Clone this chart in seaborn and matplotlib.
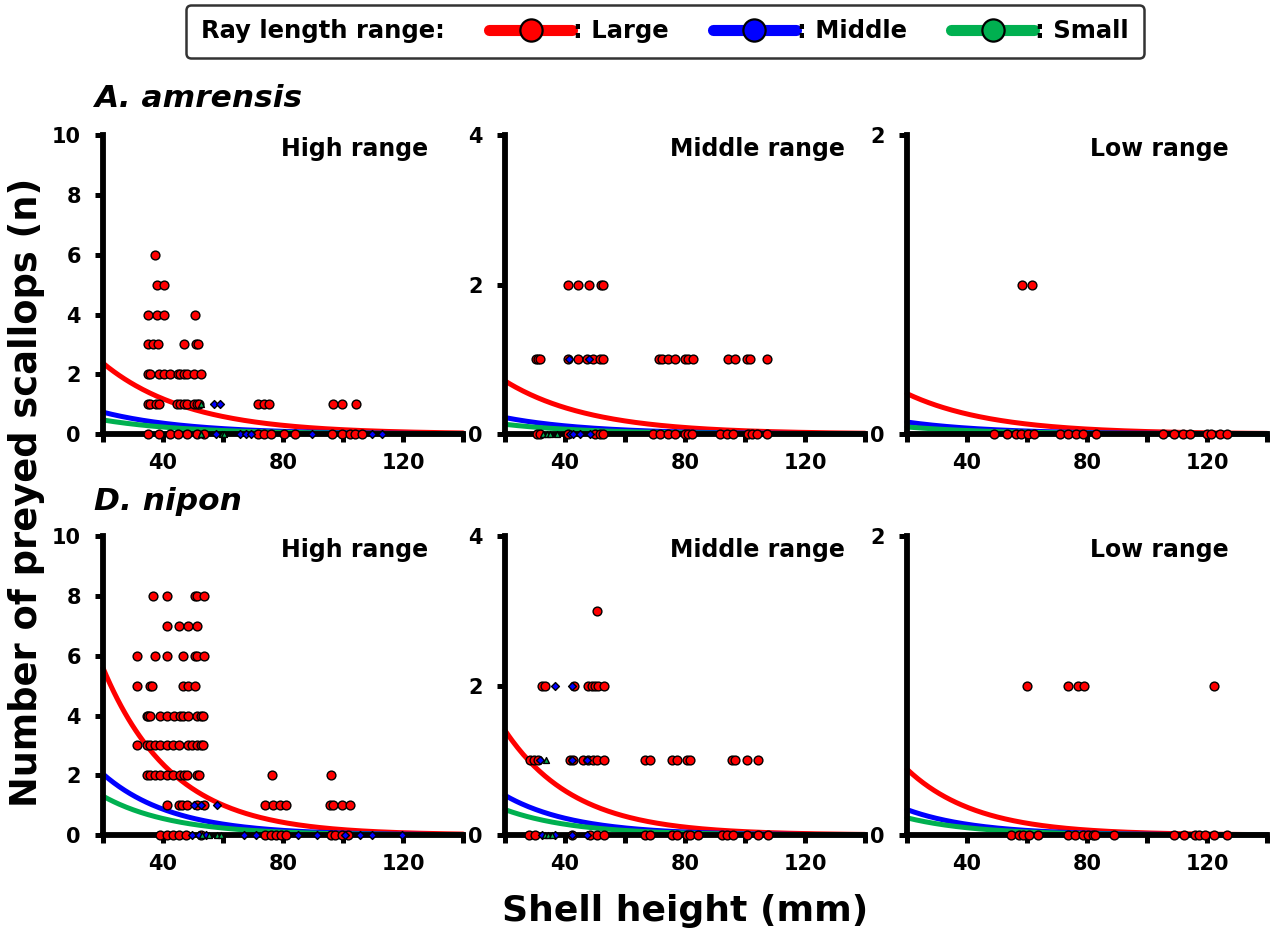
import numpy as np
import pandas as pd
import matplotlib
matplotlib.use("Agg")
import matplotlib.pyplot as plt
from matplotlib.lines import Line2D
import seaborn as sns

# ---------------- data ----------------
GROUPS = ["Large", "Middle", "Small"]
COLORS = {"Large": "#FF0000", "Middle": "#0000FF", "Small": "#00B050"}
MARKERS = {"Large": "o", "Middle": "D", "Small": "^"}

# A. amrensis - High range : {count: [shell heights]}
AA_HIGH_LARGE = {
    6: [37.2],
    5: [38.0, 40.4],
    4: [34.9, 37.9, 40.2, 50.6],
    3: [34.9, 36.8, 38.3, 46.9, 50.9, 51.6],
    2: [34.9, 35.7, 38.5, 40.2, 42.4, 44.9, 45.8, 46.9, 48.0, 50.3, 52.7],
    1: [34.9, 35.7, 37.7, 38.5, 44.7, 45.8, 46.9, 48.0, 50.3, 51.2, 52.0,
        71.6, 73.8, 75.2, 96.8, 99.6, 104.4],
    0: [34.9, 38.5, 42.4, 44.9, 48.0, 51.4, 53.6, 71.6, 73.8, 76.0, 80.3,
        83.9, 96.2, 99.6, 102.4, 104.1, 106.3],
}
AA_HIGH_MIDDLE = {1: [57.0, 59.0], 0: [57.6, 65.7, 67.6, 69.3, 89.5, 109.7, 113.0]}
AA_HIGH_SMALL = {1: [52.5], 0: [52.5, 59.8, 60.4]}

# A. amrensis - Middle range
AA_MID_LARGE = {
    2: [40.9, 44.4, 48.1, 51.9, 52.6],
    1: [30.2, 31.1, 31.7, 40.9, 44.4, 47.2, 49.4, 51.7, 52.6, 71.4, 72.2,
        74.4, 76.7, 80.0, 81.1, 82.6, 94.4, 96.7, 100.6, 101.7, 107.2],
    0: [30.6, 31.7, 41.1, 50.0, 51.7, 52.6, 69.4, 71.7, 74.4, 76.7, 80.0,
        81.1, 82.2, 91.7, 93.9, 96.1, 101.1, 102.2, 103.9, 107.2],
}
AA_MID_MIDDLE = {1: [41.4, 48.1], 0: [41.7, 42.8, 45.0, 48.3]}
AA_MID_SMALL = {0: [32.8, 33.9, 35.0, 37.2]}

# A. amrensis - Low range
AA_LOW_LARGE = {
    1: [58.2, 61.7],
    0: [49.1, 53.3, 56.3, 58.0, 60.2, 62.4, 71.1, 73.6, 76.3, 78.6, 83.0,
        105.2, 108.9, 111.9, 114.4, 120.0, 121.3, 124.4, 126.7],
}
AA_LOW_MIDDLE = {}
AA_LOW_SMALL = {}

# D. nipon - High range
DN_HIGH_LARGE = {
    8: [36.8, 41.3, 50.6, 51.4, 53.6],
    7: [41.3, 45.2, 48.4, 51.4],
    6: [31.2, 37.4, 41.3, 46.7, 50.6, 51.4, 53.6],
    5: [31.2, 35.7, 36.3, 46.7, 48.4, 50.6],
    4: [34.6, 35.1, 35.7, 39.0, 41.3, 43.5, 45.8, 46.7, 48.4, 51.2, 52.8, 53.4],
    3: [31.2, 34.6, 35.5, 37.4, 39.0, 41.3, 43.3, 45.2, 48.4, 49.5, 51.4,
        52.5, 53.4],
    2: [34.6, 35.7, 37.4, 39.0, 41.3, 43.3, 45.8, 46.9, 48.0, 51.2, 52.0,
        76.4, 96.0],
    1: [41.3, 45.2, 46.3, 48.0, 51.2, 53.6, 74.1, 76.6, 78.9, 81.1, 95.7,
        96.5, 99.6, 102.4],
    0: [39.0, 41.3, 43.3, 45.2, 47.5, 52.5, 74.1, 76.0, 77.7, 79.4, 81.1,
        96.0, 97.3, 99.6, 101.8],
}
DN_HIGH_MIDDLE = {
    1: [50.3, 52.8, 57.9],
    0: [49.7, 52.0, 54.2, 67.1, 71.0, 85.0, 91.2, 100.7, 105.8, 109.5, 119.8],
}
DN_HIGH_SMALL = {0: [53.1, 55.3, 58.1, 59.2]}

# D. nipon - Middle range
DN_MID_LARGE = {
    3: [50.6],
    2: [32.2, 33.3, 43.1, 47.8, 48.9, 50.0, 51.1, 53.0],
    1: [28.3, 29.8, 31.1, 41.7, 42.8, 45.9, 47.8, 49.4, 50.6, 53.0, 66.7,
        68.3, 75.6, 77.2, 80.6, 81.7, 95.6, 96.7, 100.6, 104.4],
    0: [28.1, 30.0, 42.2, 48.3, 50.6, 53.0, 66.7, 68.3, 75.6, 77.2, 80.6,
        81.7, 84.4, 92.2, 93.9, 96.1, 100.6, 104.4, 107.8],
}
DN_MID_MIDDLE = {2: [36.7, 42.2], 1: [31.7, 42.2, 47.2], 0: [32.2, 36.7, 42.2, 47.2]}
DN_MID_SMALL = {1: [33.7], 0: [33.3, 34.4, 35.6]}

# D. nipon - Low range
DN_LOW_LARGE = {
    1: [59.9, 73.6, 77.1, 79.1, 122.4],
    0: [54.7, 57.4, 58.6, 60.6, 63.6, 73.6, 76.0, 78.6, 80.2, 81.9, 82.7,
        88.9, 108.9, 112.2, 116.0, 117.4, 119.3, 122.4, 126.7],
}
DN_LOW_MIDDLE = {}
DN_LOW_SMALL = {}

# fitted curves: predicted count at 20 mm (Large, Middle, Small) and decay rate
AA_HIGH_FIT = [2.37, 0.73, 0.47]
AA_MID_FIT = [0.71, 0.22, 0.13]
AA_LOW_FIT = [0.27, 0.08, 0.047]
DN_HIGH_FIT = [5.59, 2.04, 1.30]
DN_MID_FIT = [1.40, 0.53, 0.34]
DN_LOW_FIT = [0.44, 0.17, 0.115]
AA_DECAY = 0.035
DN_DECAY = 0.043

PANEL_TITLES = ["High range", "Middle range", "Low range"]
YMAX = [10, 4, 2]
YTICKS = [[0, 2, 4, 6, 8, 10], [0, 2, 4], [0, 2]]
XTICKS = [20, 40, 60, 80, 100, 120, 140]
XTICKLABELS = ["", "40", "", "80", "", "120", ""]

# ---------------- styling ----------------
sns.set_style("ticks")
plt.rcParams["font.family"] = ["DejaVu Sans"]
plt.rcParams["font.weight"] = "bold"
plt.rcParams["text.color"] = "black"
plt.rcParams["axes.labelcolor"] = "black"
plt.rcParams["xtick.color"] = "black"
plt.rcParams["ytick.color"] = "black"

fig = plt.figure(figsize=(12.75, 9.38), dpi=100)

lefts = [0.0808, 0.3961, 0.7114]
bottoms = [0.5373, 0.1098]
W, H = 0.2824, 0.3185

panels = [
    [(AA_HIGH_LARGE, AA_HIGH_MIDDLE, AA_HIGH_SMALL, AA_HIGH_FIT, AA_DECAY),
     (AA_MID_LARGE, AA_MID_MIDDLE, AA_MID_SMALL, AA_MID_FIT, AA_DECAY),
     (AA_LOW_LARGE, AA_LOW_MIDDLE, AA_LOW_SMALL, AA_LOW_FIT, AA_DECAY)],
    [(DN_HIGH_LARGE, DN_HIGH_MIDDLE, DN_HIGH_SMALL, DN_HIGH_FIT, DN_DECAY),
     (DN_MID_LARGE, DN_MID_MIDDLE, DN_MID_SMALL, DN_MID_FIT, DN_DECAY),
     (DN_LOW_LARGE, DN_LOW_MIDDLE, DN_LOW_SMALL, DN_LOW_FIT, DN_DECAY)],
]


def rows_to_df(rows, group):
    xs, ys = [], []
    for count, heights in rows.items():
        xs += list(heights)
        ys += [count] * len(heights)
    return pd.DataFrame({"x": xs, "y": ys, "group": group})


grid = np.linspace(20, 140, 200)
marker_sizes = {"Large": 40, "Middle": 16, "Small": 18}

for r, row in enumerate(panels):
    for c, (lg, md, sm, fit, decay) in enumerate(row):
        ax = fig.add_axes([lefts[c], bottoms[r], W, H])
        # fitted curves
        for g, start in zip(GROUPS, fit):
            curve = pd.DataFrame({"x": grid, "y": start * np.exp(-decay * (grid - 20))})
            sns.lineplot(data=curve, x="x", y="y", color=COLORS[g], lw=3.6,
                         ax=ax, zorder=2)
        # observations
        for g, rows in zip(GROUPS, (lg, md, sm)):
            df = rows_to_df(rows, g)
            if len(df) == 0:
                continue
            sns.scatterplot(data=df, x="x", y="y", color=COLORS[g],
                            marker=MARKERS[g], s=marker_sizes[g],
                            edgecolor="black", linewidth=1.0, ax=ax,
                            zorder=3 if g == "Large" else 4, legend=False)
        for coll in ax.collections:
            coll.set_clip_on(False)
        for ln in ax.lines:
            ln.set_clip_on(False)

        ax.set_xlim(20, 140)
        ax.set_ylim(0, YMAX[c])
        ax.set_xticks(XTICKS)
        ax.set_xticklabels(XTICKLABELS)
        ax.set_yticks(YTICKS[c])
        ax.set_yticklabels([str(v) for v in YTICKS[c]])
        ax.set_xlabel("")
        ax.set_ylabel("")
        sns.despine(ax=ax)
        for s in ("left", "bottom"):
            ax.spines[s].set_linewidth(4.2)
            ax.spines[s].set_color("black")
            ax.spines[s].set_capstyle("projecting")
        ax.tick_params(axis="both", direction="out", length=6, width=3.6,
                       labelsize=15, colors="black")
        ax.tick_params(axis="y", pad=10)
        ax.tick_params(axis="x", pad=8)
        for lab in ax.get_xticklabels() + ax.get_yticklabels():
            lab.set_fontweight("bold")
        ax.text(0.70, 0.955, PANEL_TITLES[c], transform=ax.transAxes,
                ha="center", va="center", fontsize=17, fontweight="bold")
        ax.patch.set_alpha(0)

# species labels
fig.text(0.074, 0.8955, "A. amrensis", fontsize=22.5, fontweight="bold",
         fontstyle="italic", ha="left", va="center")
fig.text(0.074, 0.465, "D. nipon", fontsize=22.5, fontweight="bold",
         fontstyle="italic", ha="left", va="center")

# axis labels
fig.text(0.0205, 0.4755, "Number of preyed scallops (n)", rotation=90,
         fontsize=26.5, fontweight="bold", ha="center", va="center")
fig.text(0.537, 0.029, "Shell height (mm)", fontsize=26, fontweight="bold",
         ha="center", va="center")

# legend
handles = [Line2D([], [], color=COLORS[g], lw=8, marker="o", markersize=16,
                  markerfacecolor=COLORS[g], markeredgecolor="black",
                  markeredgewidth=1.6) for g in GROUPS]
labels = [": " + g for g in GROUPS]
leg = fig.legend(handles, labels, loc="upper center",
                 bbox_to_anchor=(0.5215, 0.995), ncol=3, frameon=True,
                 fancybox=True, edgecolor="black", facecolor="white",
                 handlelength=3.4, handletextpad=0.05, columnspacing=1.6,
                 numpoints=1, title="Ray length range:",
                 prop={"weight": "bold", "size": 17.5},
                 title_fontproperties={"weight": "bold", "size": 17.5},
                 borderpad=0.6, borderaxespad=0.0)
leg.get_frame().set_linewidth(1.8)
# put the title to the left of the entries
try:
    box = leg.get_children()[0]
    title_box, entries_box = box.get_children()
    box._children = [entries_box]
    entries_box._children = [title_box] + entries_box.get_children()
    entries_box.sep = 32
except Exception:
    pass

fig.savefig("out.png", dpi=100)
